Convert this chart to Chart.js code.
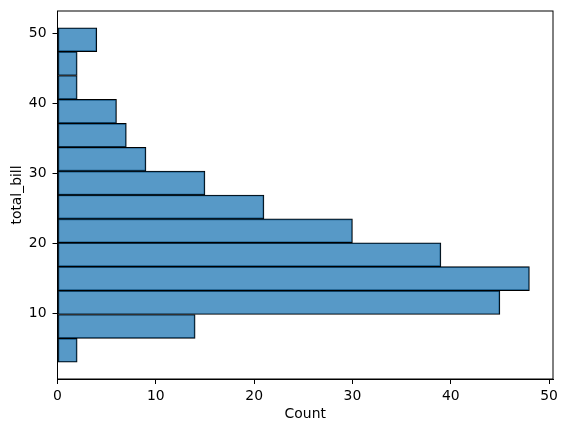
<!DOCTYPE html>
<html><head><meta charset="utf-8">
<script src="https://cdn.jsdelivr.net/npm/chart.js@4.4.0/dist/chart.umd.min.js"></script>
<style>html,body{margin:0;padding:0;background:#fff}#wrap{width:567px;height:432px}</style>
</head><body><div id="wrap"><canvas id="c" width="567" height="432"></canvas></div>
<script>
const binEdges = [3.07, 6.48, 9.89, 13.30, 16.71, 20.12, 23.53, 26.94, 30.35, 33.76, 37.17, 40.58, 43.99, 47.40, 50.81];
const counts = [2, 14, 45, 48, 39, 30, 21, 15, 9, 7, 6, 2, 2, 4];
const yTicks = [10, 20, 30, 40, 50];
const xTicks = [0, 10, 20, 30, 40, 50];

const data = counts.map((c, i) => ({ x: c, y: (binEdges[i] + binEdges[i + 1]) / 2 }));
const span = binEdges[binEdges.length - 1] - binEdges[0];
const yMin = binEdges[0] - 0.05 * span, yMax = binEdges[binEdges.length - 1] + 0.05 * span;
const xMax = Math.max(...counts) * 1.05;

const FONT = { family: 'DejaVu Sans', size: 13.9 };
const boxPlugin = {
  id: 'box',
  afterDraw(chart) {
    const a = chart.chartArea, ctx = chart.ctx;
    ctx.save(); ctx.strokeStyle = '#000'; ctx.lineWidth = 1;
    ctx.strokeRect(a.left, a.top, a.right - a.left, a.bottom - a.top);
    ctx.restore();
  }
};
Chart.defaults.font.family = 'DejaVu Sans';
new Chart(document.getElementById('c'), {
  type: 'bar',
  data: { datasets: [{ data, backgroundColor: 'rgba(31,119,180,0.75)', borderColor: '#000', borderWidth: 1, borderSkipped: false, barPercentage: 1, categoryPercentage: 1 }] },
  options: {
    indexAxis: 'y', responsive: false, animation: false, devicePixelRatio: 1,
    layout: { padding: { left: 0, top: 11, right: 14, bottom: 0 } },
    plugins: { legend: { display: false }, tooltip: { enabled: false } },
    scales: {
      y: {
        type: 'linear', min: yMin, max: yMax, offset: false,
        afterBuildTicks: s => { s.ticks = yTicks.map(v => ({ value: v })); },
        afterFit: s => { s.width = 57.5; s.paddingTop = 0; s.paddingBottom = 0; },
        grid: { drawOnChartArea: false, offset: false, tickLength: 5, tickColor: '#000' },
        border: { display: true, color: '#000' },
        ticks: { color: '#000', font: FONT, padding: 6 },
        title: { display: true, text: 'total_bill', color: '#000', font: FONT, padding: { top: 9, bottom: 0 } }
      },
      x: {
        type: 'linear', min: 0, max: xMax, offset: false,
        afterBuildTicks: s => { s.ticks = xTicks.map(v => ({ value: v })); },
        afterFit: s => { s.height = 53; s.paddingLeft = 0; s.paddingRight = 0; },
        grid: { drawOnChartArea: false, offset: false, tickLength: 5, tickColor: '#000' },
        border: { display: true, color: '#000' },
        ticks: { color: '#000', font: FONT, padding: 4, maxRotation: 0 },
        title: { display: true, text: 'Count', color: '#000', font: FONT, padding: { top: 0, bottom: 9 } }
      }
    }
  },
  plugins: [boxPlugin]
});
</script></body></html>
